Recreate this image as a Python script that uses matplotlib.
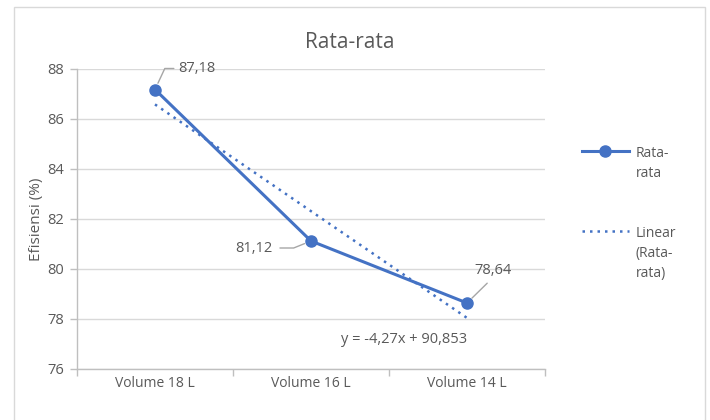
import numpy as np
import matplotlib
matplotlib.use("Agg")
import matplotlib.pyplot as plt
from matplotlib.lines import Line2D
from matplotlib.patches import Rectangle

categories = ["Volume 18 L", "Volume 16 L", "Volume 14 L"]
rata_rata = [87.18, 81.12, 78.64]
labels = ["87,18", "81,12", "78,64"]
yticks = [76, 78, 80, 82, 84, 86, 88]

BLUE = "#4472C4"
TXT = "#595959"
GRID = "#D9D9D9"
AXIS = "#BFBFBF"
LEADER = "#A6A6A6"

plt.rcParams["font.family"] = ["Open Sans", "DejaVu Sans"]

fig = plt.figure(figsize=(7.1, 4.2), dpi=100)
ax = fig.add_axes([77 / 710, 51 / 420, 468 / 710, 300 / 420])

x = np.arange(1, len(categories) + 1)
ax.plot(x, rata_rata, color=BLUE, linewidth=2.2, marker="o", markersize=8,
        zorder=3)

# linear trendline
k, c = np.polyfit(x, rata_rata, 1)
ax.plot(x, k * x + c, color=BLUE, linewidth=1.8, linestyle=(0, (1, 2)),
        zorder=2)

ax.set_xlim(0.5, 3.5)
ax.set_ylim(76, 88)
ax.set_yticks(yticks)
ax.set_xticks(x)
ax.set_xticklabels(categories)
ax.set_xticks([0.5, 1.5, 2.5, 3.5], minor=True)
ax.tick_params(axis="x", which="major", length=0, pad=5, labelsize=10,
               labelcolor=TXT)
ax.tick_params(axis="x", which="minor", length=5, color=AXIS, width=1)
ax.tick_params(axis="y", length=5, color=AXIS, width=1, pad=4, labelsize=10.5,
               labelcolor=TXT)
ax.grid(axis="y", color=GRID, linewidth=1)
ax.set_axisbelow(True)
for s in ["top", "right"]:
    ax.spines[s].set_visible(False)
for s in ["left", "bottom"]:
    ax.spines[s].set_color(AXIS)
    ax.spines[s].set_linewidth(1)

ax.set_ylabel("Efisiensi (%)", fontsize=11, color=TXT, labelpad=3)
fig.text(0.493, 0.898, "Rata-rata", fontsize=15, color=TXT, ha="center",
         va="center")

# data labels with leader lines
ax.annotate(labels[0], (x[0], rata_rata[0]), xytext=(23, 21),
            textcoords="offset pixels", ha="left", va="center", fontsize=10.5,
            color=TXT,
            arrowprops=dict(arrowstyle="-", color=LEADER, lw=1,
                            shrinkA=1, shrinkB=5, relpos=(0, 0.5),
                            connectionstyle="angle,angleA=0,angleB=65,rad=0"))
ax.annotate(labels[1], (x[1], rata_rata[1]), xytext=(-38, -7),
            textcoords="offset pixels", ha="right", va="center", fontsize=10.5,
            color=TXT,
            arrowprops=dict(arrowstyle="-", color=LEADER, lw=1,
                            shrinkA=3, shrinkB=5, relpos=(1, 0.5),
                            connectionstyle="angle,angleA=0,angleB=22,rad=0"))
ax.annotate(labels[2], (x[2], rata_rata[2]), xytext=(26, 33),
            textcoords="offset pixels", ha="center", va="center", fontsize=10.5,
            color=TXT,
            arrowprops=dict(arrowstyle="-", color=LEADER, lw=1,
                            shrinkA=3, shrinkB=5, relpos=(0.5, 0)))

eq = "y = {:.2f}x + {:.3f}".format(k, c).replace(".", ",")
ax.text(0.699, 0.097, eq, transform=ax.transAxes, ha="center", va="center",
        fontsize=10.5, color=TXT)

# legend, handles aligned with the first text line as in Excel
h1 = Line2D([], [], color=BLUE, linewidth=2.2, marker="o", markersize=8)
h2 = Line2D([], [], color=BLUE, linewidth=1.8, linestyle=(0, (1, 2)))
leg = fig.legend([h1, h2], ["Rata-\nrata", "Linear\n(Rata-\nrata)"],
                 loc="upper left", bbox_to_anchor=(0.8015, 0.682),
                 frameon=False, fontsize=10, labelcolor=TXT, handlelength=3.4,
                 handletextpad=0.5, labelspacing=3.25)
for t in leg.get_texts():
    t.set_linespacing(1.45)
for col in leg._legend_handle_box.get_children():
    for item in col.get_children():
        item.align = "top"

# outer chart border
fig.patches.append(Rectangle((14 / 710, -0.05), 691 / 710, 1.05 - 7 / 420,
                             transform=fig.transFigure, fill=False,
                             edgecolor="#D9D9D9", linewidth=1))

fig.savefig("out.png", dpi=100)
